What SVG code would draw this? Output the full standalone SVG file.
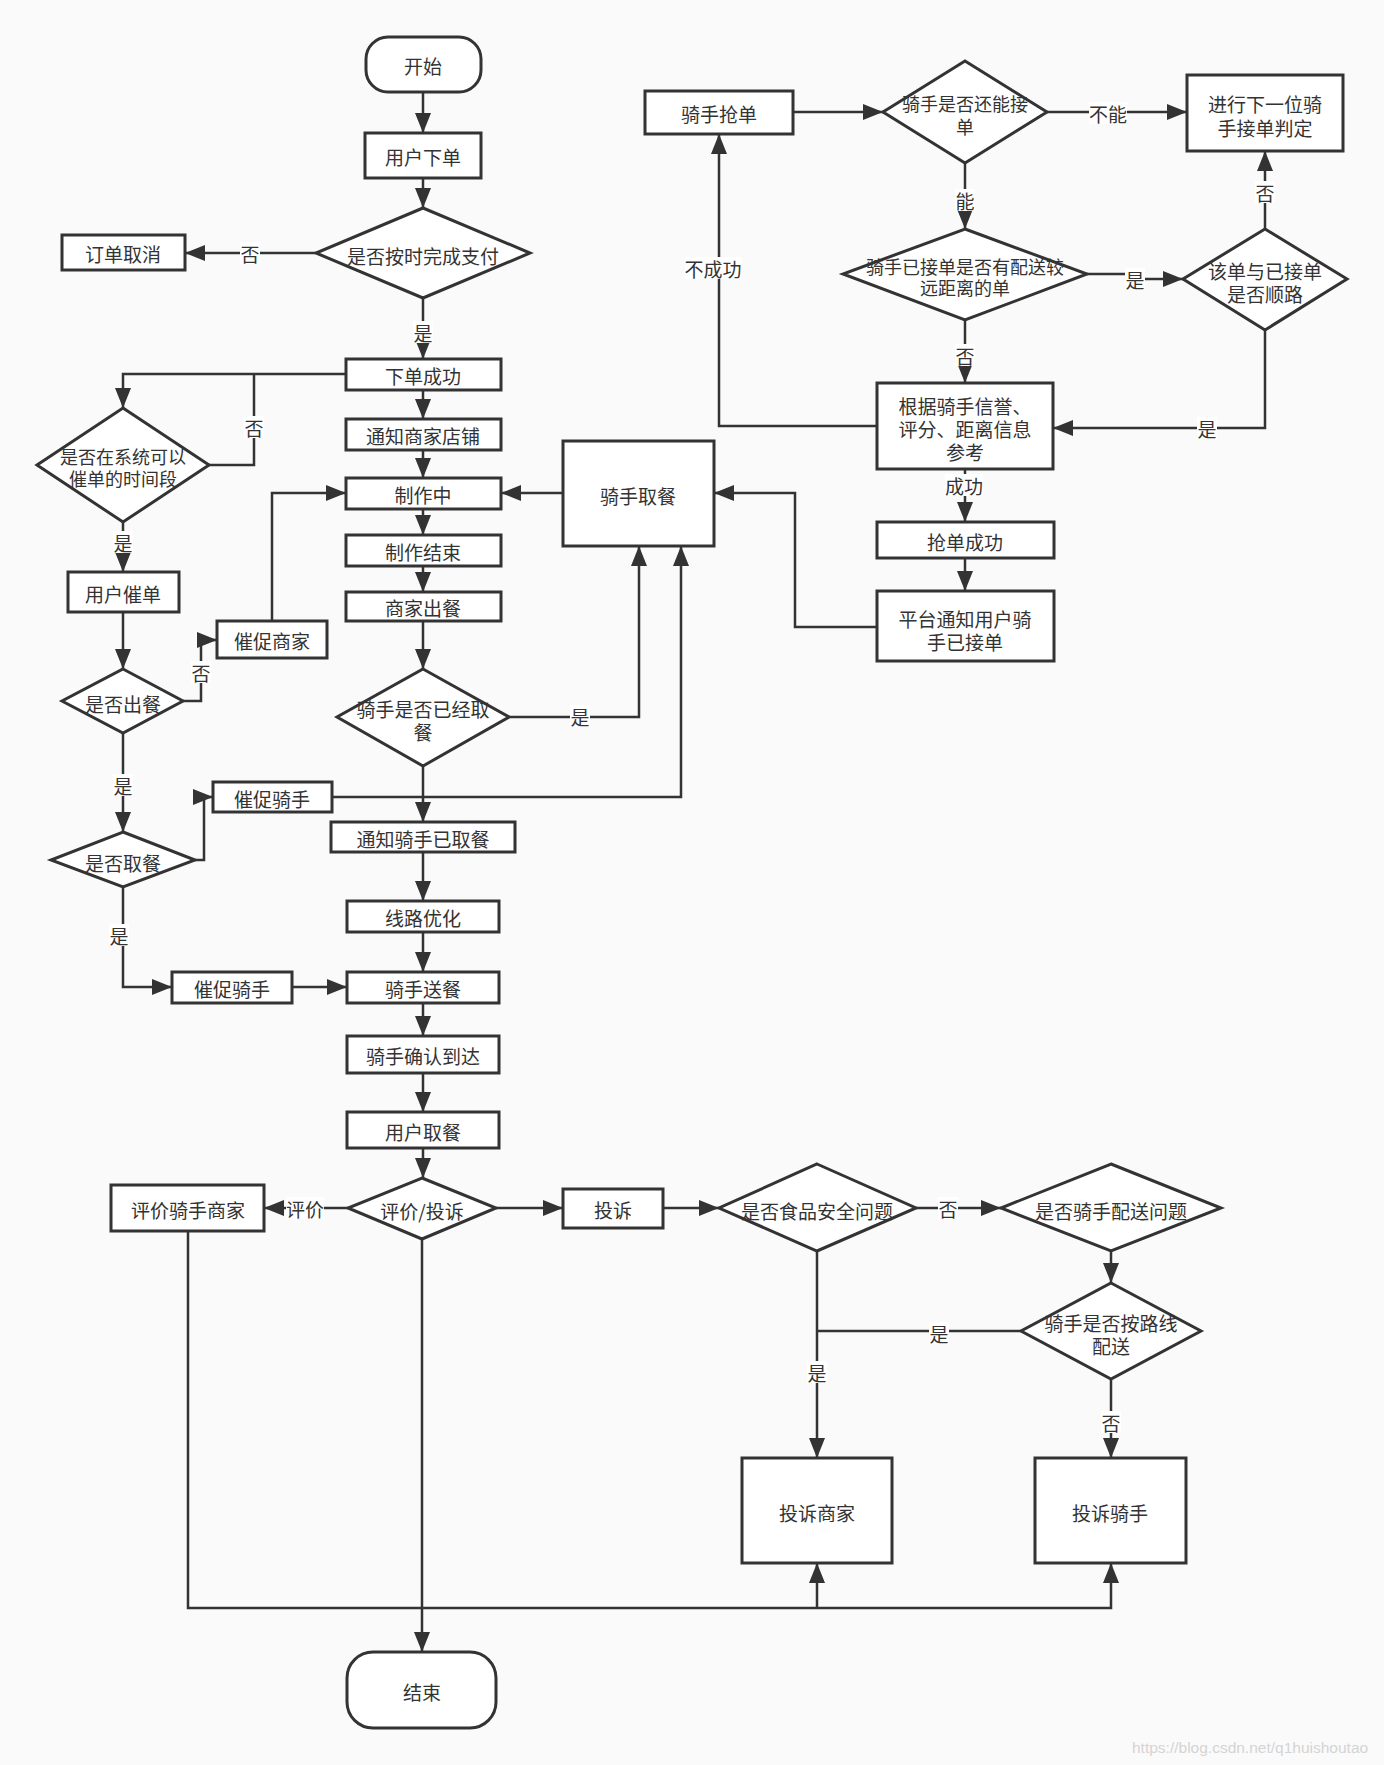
<svg xmlns="http://www.w3.org/2000/svg" width="1384" height="1765" viewBox="0 0 1384 1765">
<defs>
<marker id="ah" markerUnits="userSpaceOnUse" markerWidth="20" markerHeight="16" refX="20" refY="8" orient="auto">
<path d="M0,0 L20,8 L0,16 z" fill="#333"/>
</marker>
<style>
.n rect,.n path{fill:#fff;stroke:#333;stroke-width:3}
.n text,.l text{font-family:"Noto Sans CJK SC","Noto Sans",sans-serif;font-size:19px;fill:#333;text-anchor:middle;dominant-baseline:central}
.s text{font-size:18px}
.c path{fill:none;stroke:#333;stroke-width:2.5}
.c .a{marker-end:url(#ah)}
.l rect{fill:#fff;stroke:none}
</style>
</defs>
<rect x="0" y="0" width="1384" height="1765" fill="#fafafa"/>

<g id="connectors" class="c">
<path class="a" d="M423,92 V133"/>
<path class="a" d="M423,178 V208"/>
<path class="a" d="M316,253 H185"/>
<path class="a" d="M423,298 V359"/>
<path class="a" d="M423,390 V419"/>
<path class="a" d="M346,374 H123 V408"/>
<path d="M209,465 H254 V374"/>
<path class="a" d="M123,522 V572"/>
<path class="a" d="M123,612 V669"/>
<path class="a" d="M183,701 H201 V640 H217"/>
<path class="a" d="M272,621 V493 H346"/>
<path class="a" d="M423,450 V478"/>
<path class="a" d="M423,509 V535"/>
<path class="a" d="M423,566 V592"/>
<path class="a" d="M423,621 V669"/>
<path class="a" d="M509,717 H639 V546"/>
<path class="a" d="M423,766 V822"/>
<path class="a" d="M123,733 V832"/>
<path class="a" d="M195,860 H204 V797 H213"/>
<path class="a" d="M332,797 H681 V546"/>
<path class="a" d="M563,493 H501"/>
<path class="a" d="M123,887 V987 H172"/>
<path class="a" d="M292,987 H347"/>
<path class="a" d="M423,852 V901"/>
<path class="a" d="M423,932 V972"/>
<path class="a" d="M423,1003 V1036"/>
<path class="a" d="M423,1073 V1112"/>
<path class="a" d="M423,1148 V1178"/>
<path class="a" d="M348,1208 H264"/>
<path class="a" d="M496,1208 H563"/>
<path class="a" d="M663,1208 H719"/>
<path class="a" d="M916,1208 H1001"/>
<path class="a" d="M817,1251 V1458"/>
<path class="a" d="M1111,1251 V1283"/>
<path d="M1021,1331 H817"/>
<path class="a" d="M1111,1379 V1458"/>
<path class="a" d="M422,1239 V1652"/>
<path class="a" d="M188,1231 V1608 H1111 V1563"/>
<path class="a" d="M817,1608 V1563"/>
<path class="a" d="M793,112 H883"/>
<path class="a" d="M1047,112 H1187"/>
<path class="a" d="M965,163 V229"/>
<path class="a" d="M1087,274 H1134 V279 H1183"/>
<path class="a" d="M965,320 V383"/>
<path class="a" d="M1265,229 V151"/>
<path class="a" d="M1265,330 V428 H1053"/>
<path class="a" d="M877,426 H719 V134"/>
<path class="a" d="M965,469 V522"/>
<path class="a" d="M965,558 V591"/>
<path class="a" d="M877,627 H795 V493 H714"/>
</g>

<g id="labels" class="l">
<rect x="240" y="242" width="20" height="22"/><text x="250" y="253">否</text>
<rect x="413" y="321" width="20" height="22"/><text x="423" y="332">是</text>
<rect x="244" y="416" width="20" height="22"/><text x="254" y="427">否</text>
<rect x="113" y="531" width="20" height="22"/><text x="123" y="542">是</text>
<rect x="191" y="661" width="20" height="22"/><text x="201" y="672">否</text>
<rect x="570" y="705" width="20" height="22"/><text x="580" y="716">是</text>
<rect x="113" y="774" width="20" height="22"/><text x="123" y="785">是</text>
<rect x="109" y="924" width="20" height="22"/><text x="119" y="935">是</text>
<rect x="286" y="1197" width="38" height="22"/><text x="305" y="1208">评价</text>
<rect x="938" y="1197" width="20" height="22"/><text x="948" y="1208">否</text>
<rect x="807" y="1361" width="20" height="22"/><text x="817" y="1372">是</text>
<rect x="929" y="1322" width="20" height="22"/><text x="939" y="1333">是</text>
<rect x="1101" y="1411" width="20" height="22"/><text x="1111" y="1422">否</text>
<rect x="1089" y="102" width="38" height="22"/><text x="1108" y="113">不能</text>
<rect x="955" y="189" width="20" height="22"/><text x="965" y="200">能</text>
<rect x="1125" y="268" width="20" height="22"/><text x="1135" y="279">是</text>
<rect x="955" y="344" width="20" height="22"/><text x="965" y="355">否</text>
<rect x="1255" y="181" width="20" height="22"/><text x="1265" y="192">否</text>
<rect x="1197" y="417" width="20" height="22"/><text x="1207" y="428">是</text>
<rect x="685" y="257" width="57" height="22"/><text x="713" y="268">不成功</text>
<rect x="945" y="474" width="38" height="22"/><text x="964" y="485">成功</text>
</g>

<g id="n-start" class="n"><rect x="366" y="37" width="115" height="55" rx="22"/><text x="423" y="65">开始</text></g>
<g id="n-order" class="n"><rect x="365" y="133" width="116" height="45"/><text x="423" y="156">用户下单</text></g>
<g id="n-pay" class="n"><path d="M423,208 L530,253 L423,298 L316,253 z"/><text x="423" y="255">是否按时完成支付</text></g>
<g id="n-cancel" class="n"><rect x="62" y="235" width="123" height="35"/><text x="123" y="253">订单取消</text></g>
<g id="n-success" class="n"><rect x="346" y="359" width="155" height="31"/><text x="423" y="375">下单成功</text></g>
<g id="n-notify" class="n"><rect x="346" y="419" width="155" height="31"/><text x="423" y="435">通知商家店铺</text></g>
<g id="n-making" class="n"><rect x="346" y="478" width="155" height="31"/><text x="423" y="494">制作中</text></g>
<g id="n-made" class="n"><rect x="346" y="535" width="155" height="31"/><text x="423" y="551">制作结束</text></g>
<g id="n-out" class="n"><rect x="346" y="592" width="155" height="29"/><text x="423" y="607">商家出餐</text></g>
<g id="n-picked-q" class="n"><path d="M423,669 L509,717 L423,766 L337,717 z"/><text x="423" y="708">骑手是否已经取<tspan x="423" dy="23">餐</tspan></text></g>
<g id="n-notify-picked" class="n"><rect x="331" y="822" width="184" height="30"/><text x="423" y="838">通知骑手已取餐</text></g>
<g id="n-route" class="n"><rect x="347" y="901" width="152" height="31"/><text x="423" y="917">线路优化</text></g>
<g id="n-deliver" class="n"><rect x="347" y="972" width="152" height="31"/><text x="423" y="988">骑手送餐</text></g>
<g id="n-arrive" class="n"><rect x="347" y="1036" width="152" height="37"/><text x="423" y="1055">骑手确认到达</text></g>
<g id="n-take" class="n"><rect x="347" y="1112" width="152" height="36"/><text x="423" y="1131">用户取餐</text></g>
<g id="n-eval-q" class="n"><path d="M422,1178 L496,1208 L422,1239 L348,1208 z"/><text x="422" y="1210">评价/投诉</text></g>
<g id="n-eval" class="n"><rect x="111" y="1185" width="153" height="46"/><text x="188" y="1209">评价骑手商家</text></g>
<g id="n-complain" class="n"><rect x="563" y="1189" width="100" height="39"/><text x="613" y="1209">投诉</text></g>
<g id="n-food-q" class="n"><path d="M817,1164 L916,1208 L817,1251 L719,1208 z"/><text x="817" y="1210">是否食品安全问题</text></g>
<g id="n-rider-q" class="n"><path d="M1111,1164 L1221,1208 L1111,1251 L1001,1208 z"/><text x="1111" y="1210">是否骑手配送问题</text></g>
<g id="n-path-q" class="n"><path d="M1111,1283 L1201,1331 L1111,1379 L1021,1331 z"/><text x="1111" y="1322">骑手是否按路线<tspan x="1111" dy="23">配送</tspan></text></g>
<g id="n-c-shop" class="n"><rect x="742" y="1458" width="150" height="105"/><text x="817" y="1512">投诉商家</text></g>
<g id="n-c-rider" class="n"><rect x="1035" y="1458" width="151" height="105"/><text x="1110" y="1512">投诉骑手</text></g>
<g id="n-end" class="n"><rect x="347" y="1652" width="149" height="76" rx="26"/><text x="422" y="1691">结束</text></g>

<g id="n-urge-time-q" class="n s"><path d="M123,408 L209,465 L123,522 L37,465 z"/><text x="123" y="456">是否在系统可以<tspan x="123" dy="22">催单的时间段</tspan></text></g>
<g id="n-urge" class="n"><rect x="68" y="572" width="111" height="40"/><text x="123" y="593">用户催单</text></g>
<g id="n-out-q" class="n"><path d="M123,669 L183,701 L123,733 L62,701 z"/><text x="123" y="703">是否出餐</text></g>
<g id="n-urge-shop" class="n"><rect x="217" y="621" width="110" height="37"/><text x="272" y="640">催促商家</text></g>
<g id="n-pick-q" class="n"><path d="M123,832 L195,860 L123,887 L51,860 z"/><text x="123" y="862">是否取餐</text></g>
<g id="n-urge-rider1" class="n"><rect x="213" y="782" width="119" height="30"/><text x="272" y="798">催促骑手</text></g>
<g id="n-urge-rider2" class="n"><rect x="172" y="972" width="120" height="31"/><text x="232" y="988">催促骑手</text></g>

<g id="n-grab" class="n"><rect x="645" y="91" width="148" height="43"/><text x="719" y="113">骑手抢单</text></g>
<g id="n-can-q" class="n s"><path d="M965,61 L1047,112 L965,163 L883,112 z"/><text x="965" y="103">骑手是否还能接<tspan x="965" dy="23">单</tspan></text></g>
<g id="n-next" class="n"><rect x="1187" y="75" width="156" height="76"/><text x="1265" y="103">进行下一位骑<tspan x="1265" dy="24">手接单判定</tspan></text></g>
<g id="n-far-q" class="n s"><path d="M965,229 L1087,274 L965,320 L843,274 z"/><text x="965" y="266">骑手已接单是否有配送较<tspan x="965" dy="21">远距离的单</tspan></text></g>
<g id="n-way-q" class="n"><path d="M1265,229 L1347,279 L1265,330 L1183,279 z"/><text x="1265" y="270">该单与已接单<tspan x="1265" dy="23">是否顺路</tspan></text></g>
<g id="n-ref" class="n"><rect x="877" y="383" width="176" height="86"/><text x="965" y="405">根据骑手信誉、<tspan x="965" dy="23">评分、距离信息</tspan><tspan x="965" dy="23">参考</tspan></text></g>
<g id="n-grab-ok" class="n"><rect x="877" y="522" width="177" height="36"/><text x="965" y="541">抢单成功</text></g>
<g id="n-platform" class="n"><rect x="877" y="591" width="177" height="70"/><text x="965" y="618">平台通知用户骑<tspan x="965" dy="23">手已接单</tspan></text></g>
<g id="n-rider-pick" class="n"><rect x="563" y="441" width="151" height="105"/><text x="638" y="495">骑手取餐</text></g>

<text x="1132" y="1753" font-family="Liberation Sans, sans-serif" font-size="15.5" fill="#d4d4d4">https://blog.csdn.net/q1huishoutao</text>
</svg>
